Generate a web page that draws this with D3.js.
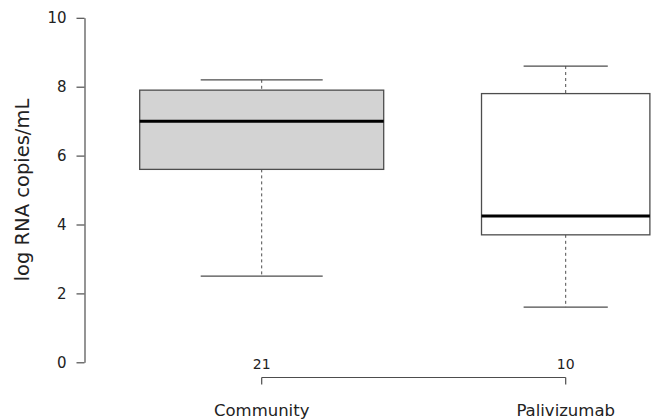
<!DOCTYPE html>
<html>
<head>
<meta charset="utf-8">
<script src="https://cdn.jsdelivr.net/npm/d3@7"></script>
<style>
  html, body { margin: 0; padding: 0; background: #fff; }
  svg { display: block; font-family: "DejaVu Sans", sans-serif; }
</style>
</head>
<body>
<svg id="chart" width="657" height="420"></svg>
<script>
// Viral load by group (log RNA copies/mL)
const groups   = ["Community", "Palivizumab"];
const counts   = [21, 10];
const whiskLo  = [2.5, 1.6];
const q1       = [5.6, 3.7];
const medians  = [7.0, 4.25];
const q3       = [7.9, 7.8];
const whiskHi  = [8.2, 8.6];
const fills    = ["#d3d3d3", "#ffffff"];
const yTicks   = [0, 2, 4, 6, 8, 10];
const yLabel   = "log RNA copies/mL";

const svg = d3.select("#chart");

const y = d3.scaleLinear().domain([0, 10]).range([362.3, 17.8]);
const x = d3.scalePoint().domain(groups).range([261.7, 565.7]);
// box widths proportional to sqrt(n)
const w = d3.scaleSqrt().domain([0, d3.max(counts)]).range([0, 244]);

const ink = "#4d4d4d";

// y axis
const yAxis = svg.append("g")
  .attr("transform", "translate(84.5,0)")
  .call(d3.axisLeft(y).tickValues(yTicks).tickSizeInner(8).tickSizeOuter(0).tickPadding(10));
yAxis.select(".domain").attr("stroke", ink).attr("stroke-width", 1.2);
yAxis.selectAll(".tick line").attr("stroke", ink).attr("stroke-width", 1.2);
yAxis.selectAll(".tick text")
  .attr("font-family", "DejaVu Sans, sans-serif")
  .attr("font-size", 15).attr("fill", "#222");

svg.append("text")
  .attr("transform", `translate(29,${y(5)}) rotate(-90)`)
  .attr("text-anchor", "middle")
  .attr("font-size", 19.5).attr("fill", "#222")
  .text(yLabel);

const data = groups.map((g, i) => ({
  g, n: counts[i], lo: whiskLo[i], q1: q1[i], med: medians[i], q3: q3[i], hi: whiskHi[i], fill: fills[i]
}));

const box = svg.append("g").selectAll("g").data(data).join("g");

// dashed whiskers
box.append("line")
  .attr("x1", d => x(d.g)).attr("x2", d => x(d.g))
  .attr("y1", d => y(d.hi)).attr("y2", d => y(d.q3))
  .attr("stroke", ink).attr("stroke-width", 1).attr("stroke-dasharray", "3,3");
box.append("line")
  .attr("x1", d => x(d.g)).attr("x2", d => x(d.g))
  .attr("y1", d => y(d.q1)).attr("y2", d => y(d.lo))
  .attr("stroke", ink).attr("stroke-width", 1).attr("stroke-dasharray", "3,3");

// whisker caps (half box width)
["hi", "lo"].forEach(k => {
  box.append("line")
    .attr("x1", d => x(d.g) - w(d.n) / 4).attr("x2", d => x(d.g) + w(d.n) / 4)
    .attr("y1", d => y(d[k])).attr("y2", d => y(d[k]))
    .attr("stroke", ink).attr("stroke-width", 1.3);
});

// box
box.append("rect")
  .attr("x", d => x(d.g) - w(d.n) / 2)
  .attr("width", d => w(d.n))
  .attr("y", d => y(d.q3))
  .attr("height", d => y(d.q1) - y(d.q3))
  .attr("fill", d => d.fill)
  .attr("stroke", ink).attr("stroke-width", 1.3);

// median
box.append("line")
  .attr("x1", d => x(d.g) - w(d.n) / 2).attr("x2", d => x(d.g) + w(d.n) / 2)
  .attr("y1", d => y(d.med)).attr("y2", d => y(d.med))
  .attr("stroke", "#000").attr("stroke-width", 3);

// bottom axis: line with downward ticks
const xAxis = svg.append("g").attr("transform", "translate(0,377.5)");
xAxis.append("line")
  .attr("x1", x(groups[0])).attr("x2", x(groups[groups.length - 1]))
  .attr("stroke", ink).attr("stroke-width", 1.2);
xAxis.selectAll("line.tick").data(groups).join("line")
  .attr("class", "tick")
  .attr("x1", d => x(d)).attr("x2", d => x(d))
  .attr("y1", 0).attr("y2", 7)
  .attr("stroke", ink).attr("stroke-width", 1.2);

// group sizes above the axis line
svg.append("g").selectAll("text").data(data).join("text")
  .attr("x", d => x(d.g)).attr("y", 369)
  .attr("text-anchor", "middle")
  .attr("font-size", 14).attr("fill", "#222")
  .text(d => d.n);

// group names
svg.append("g").selectAll("text").data(groups).join("text")
  .attr("x", d => x(d)).attr("y", 415.5)
  .attr("text-anchor", "middle")
  .attr("font-size", 16.5).attr("fill", "#222")
  .text(d => d);
</script>
</body>
</html>
